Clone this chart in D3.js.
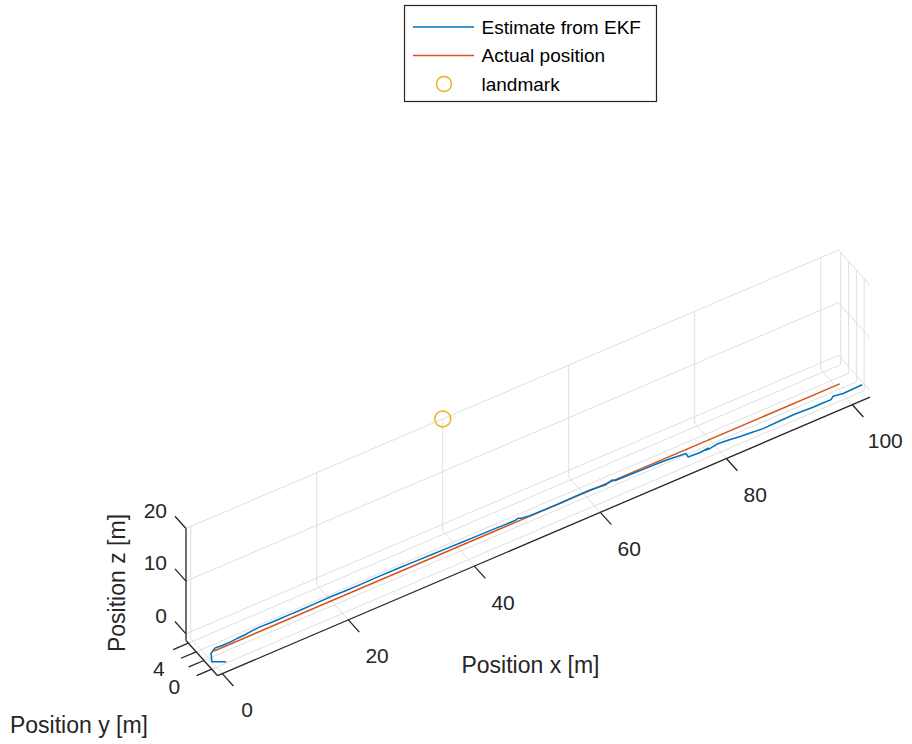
<!DOCTYPE html>
<html>
<head>
<meta charset="utf-8">
<script src="https://cdn.jsdelivr.net/npm/d3@7/dist/d3.min.js"></script>
<style>
  html, body { margin: 0; padding: 0; background: #ffffff; }
  svg { display: block; font-family: "Liberation Sans", Arial, Helvetica, sans-serif; }
</style>
</head>
<body>
<svg id="chart" width="912" height="744"></svg>
<script>
// ---------------- data ----------------
const xLimits = [-0.75, 102.8];
const yLimits = [-1.5, 6.6];
const zLimits = [-1.27, 20];

const xTicks = [0, 20, 40, 60, 80, 100];
const xTickLabels = ["0", "20", "40", "60", "80", "100"];
const yTicks = [0, 2, 4, 6];
const yTickLabels = ["0", "", "4", ""];
const zTicks = [0, 10, 20];
const zTickLabels = ["0", "10", "20"];

// Actual position (straight path)
const actualX = [0.7, 100];
const actualY = [1.75, 1.75];
const actualZ = [0, 0];

// Estimate from EKF
const estX = [0.98, -0.66, 0.12, 1.13, 2.2, 3.45, 4.6, 5.93, 7.1, 8.47, 10.0, 11.59, 13.2, 14.77, 17.0, 19.58, 22.0, 24.29, 27.5, 30.64, 33.0, 35.35, 37.8, 40.06, 42.5, 44.77, 46.8, 48.69, 49.25, 49.6, 50.91, 53.2, 55.62, 58.06, 60.43, 62.66, 63.98, 64.3, 65.84, 68.17, 71.29, 73.3, 75.21, 75.08, 76.92, 78.29, 77.7, 78.48, 79.74, 81.5, 83.16, 85.0, 86.61, 89.2, 91.79, 94.54, 96.0, 97.4, 97.98, 99.41, 101.0, 102.5];
const estY = [-0.88, 0.13, 1.58, 2.18, 2.1, 2.08, 2.2, 2.25, 2.4, 2.5, 2.45, 2.42, 2.45, 2.42, 2.46, 2.5, 2.44, 2.42, 2.45, 2.42, 2.38, 2.33, 2.3, 2.25, 2.2, 2.17, 2.12, 2.08, 2.22, 2.05, 1.83, 1.8, 1.75, 1.83, 1.82, 1.58, 1.92, 1.62, 1.58, 1.5, 1.42, 1.3, 1.08, 0.37, 0.25, 0.42, 0.25, 0.22, 0.45, 0.3, 0.08, -0.1, -0.25, -0.15, -0.08, -0.25, -0.22, -0.25, 0.17, -0.08, -0.05, 0.02];
const estZ = estX.map(() => 0);

const landmarkX = [40];
const landmarkY = [6.6];
const landmarkZ = [20];

const seriesNames = ["Estimate from EKF", "Actual position", "landmark"];
const seriesColors = ["#0072BD", "#D95319", "#EDB120"];
const axisLabels = ["Position x [m]", "Position y [m]", "Position z [m]"];

// ---------------- projection ----------------
const svg = d3.select("#chart");
const ORIGIN = [186, 640.5];          // screen of (xmin, ymax, zmin)
const AX = [652.4, -278.5];           // full x extent on screen
const AY = [31.6, 35.2];              // from ymax to ymin
const AZ = [0, -112];                 // from zmin to zmax

const xScale = d3.scaleLinear().domain(xLimits).range([0, 1]);
const yScale = d3.scaleLinear().domain([yLimits[1], yLimits[0]]).range([0, 1]);
const zScale = d3.scaleLinear().domain(zLimits).range([0, 1]);

function P(x, y, z) {
  const fx = xScale(x), fy = yScale(y), fz = zScale(z);
  return [ORIGIN[0] + fx * AX[0] + fy * AY[0] + fz * AZ[0],
          ORIGIN[1] + fx * AX[1] + fy * AY[1] + fz * AZ[1]];
}

const gridColor = "#dfdfdf";
const axisColor = "#262626";
const [x0, x1] = xLimits, [y0, y1] = yLimits, [z0, z1] = zLimits;

const seg = (a, b) => ({ a, b });
const gridSegs = [];
// floor (z = zmin)
yTicks.forEach(t => gridSegs.push(seg(P(x0, t, z0), P(x1, t, z0))));
xTicks.forEach(t => gridSegs.push(seg(P(t, y0, z0), P(t, y1, z0))));
// back wall (y = ymax)
zTicks.forEach(t => gridSegs.push(seg(P(x0, y1, t), P(x1, y1, t))));
xTicks.forEach(t => gridSegs.push(seg(P(t, y1, z0), P(t, y1, z1))));
// side wall (x = xmax)
zTicks.forEach(t => gridSegs.push(seg(P(x1, y0, t), P(x1, y1, t))));
yTicks.forEach(t => gridSegs.push(seg(P(x1, t, z0), P(x1, t, z1))));

svg.append("g").selectAll("line").data(gridSegs).join("line")
  .attr("x1", d => d.a[0]).attr("y1", d => d.a[1])
  .attr("x2", d => d.b[0]).attr("y2", d => d.b[1])
  .attr("stroke", gridColor).attr("stroke-width", 1);

// axis lines
const axisSegs = [
  seg(P(x0, y0, z0), P(x1, y0, z0)),
  seg(P(x0, y1, z0), P(x0, y0, z0)),
  seg(P(x0, y1, z0), P(x0, y1, z1))
];
svg.append("g").selectAll("line").data(axisSegs).join("line")
  .attr("x1", d => d.a[0]).attr("y1", d => d.a[1])
  .attr("x2", d => d.b[0]).attr("y2", d => d.b[1])
  .attr("stroke", axisColor).attr("stroke-width", 1.3);

// tick directions
function unit(v, len) { const n = Math.hypot(v[0], v[1]); return [v[0] / n * len, v[1] / n * len]; }
const TL = 16.5;
const xTickDir = unit(AY, TL);                  // toward -y
const yTickDir = unit([-AX[0], -AX[1]], TL);    // toward -x
const zTickDir = unit([-AY[0], -AY[1]], TL);    // toward +y

const ticksG = svg.append("g");
xTicks.forEach((t, i) => {
  const p = P(t, y0, z0);
  ticksG.append("line").attr("x1", p[0]).attr("y1", p[1])
    .attr("x2", p[0] + xTickDir[0]).attr("y2", p[1] + xTickDir[1])
    .attr("stroke", axisColor).attr("stroke-width", 1.3);
  const txt = ticksG.append("text").attr("y", p[1] + 36)
    .attr("text-anchor", "middle").attr("dominant-baseline", "central")
    .attr("font-size", 21).attr("fill", axisColor).text(xTickLabels[i]);
  const w = txt.node().getComputedTextLength();
  txt.attr("x", p[0] + 20.5 + 0.71 * w / 2);
});
yTicks.forEach((t, i) => {
  const p = P(x0, t, z0);
  ticksG.append("line").attr("x1", p[0]).attr("y1", p[1])
    .attr("x2", p[0] + yTickDir[0]).attr("y2", p[1] + yTickDir[1])
    .attr("stroke", axisColor).attr("stroke-width", 1.3);
  ticksG.append("text").attr("x", p[0] - 31.5).attr("y", p[1] + 17)
    .attr("text-anchor", "end").attr("dominant-baseline", "central")
    .attr("font-size", 21).attr("fill", axisColor).text(yTickLabels[i]);
});
zTicks.forEach((t, i) => {
  const p = P(x0, y1, t);
  ticksG.append("line").attr("x1", p[0]).attr("y1", p[1])
    .attr("x2", p[0] + zTickDir[0]).attr("y2", p[1] + zTickDir[1])
    .attr("stroke", axisColor).attr("stroke-width", 1.3);
  ticksG.append("text").attr("x", p[0] - 19).attr("y", p[1] - 18.5)
    .attr("text-anchor", "end").attr("dominant-baseline", "central")
    .attr("font-size", 21).attr("fill", axisColor).text(zTickLabels[i]);
});

// axis labels
svg.append("text").attr("x", 530.5).attr("y", 665).attr("text-anchor", "middle")
  .attr("dominant-baseline", "central").attr("font-size", 23).attr("fill", axisColor)
  .text(axisLabels[0]);
svg.append("text").attr("x", 79).attr("y", 725).attr("text-anchor", "middle")
  .attr("dominant-baseline", "central").attr("font-size", 23).attr("fill", axisColor)
  .text(axisLabels[1]);
svg.append("text").attr("transform", "translate(117,583) rotate(-90)").attr("text-anchor", "middle")
  .attr("dominant-baseline", "central").attr("font-size", 23).attr("fill", axisColor)
  .text(axisLabels[2]);

// data lines
const line3 = d3.line().x(d => P(d[0], d[1], d[2])[0]).y(d => P(d[0], d[1], d[2])[1]);
const actualPts = actualX.map((x, i) => [x, actualY[i], actualZ[i]]);
const estPts = estX.map((x, i) => [x, estY[i], estZ[i]]);
svg.append("path").attr("d", line3(actualPts)).attr("fill", "none")
  .attr("stroke", seriesColors[1]).attr("stroke-width", 1.5);
svg.append("path").attr("d", line3(estPts)).attr("fill", "none")
  .attr("stroke", seriesColors[0]).attr("stroke-width", 1.5).attr("stroke-linejoin", "round");

// landmark
const lmPts = landmarkX.map((x, i) => P(x, landmarkY[i], landmarkZ[i]));
svg.append("g").selectAll("circle").data(lmPts).join("circle")
  .attr("cx", d => d[0]).attr("cy", d => d[1]).attr("r", 8)
  .attr("fill", "none").attr("stroke", seriesColors[2]).attr("stroke-width", 1.5);

// legend
const lg = svg.append("g");
lg.append("rect").attr("x", 404.5).attr("y", 5.5).attr("width", 252).attr("height", 96)
  .attr("fill", "#ffffff").attr("stroke", axisColor).attr("stroke-width", 1.2);
const rowsY = [27, 55.5, 84];
seriesNames.forEach((name, i) => {
  if (i < 2) {
    lg.append("line").attr("x1", 413).attr("x2", 474).attr("y1", rowsY[i]).attr("y2", rowsY[i])
      .attr("stroke", seriesColors[i]).attr("stroke-width", 1.5);
  } else {
    lg.append("circle").attr("cx", 444).attr("cy", rowsY[i]).attr("r", 7.5)
      .attr("fill", "none").attr("stroke", seriesColors[i]).attr("stroke-width", 1.5);
  }
  lg.append("text").attr("x", 481.5).attr("y", rowsY[i]).attr("dominant-baseline", "central")
    .attr("font-size", 19).attr("fill", "#000000").text(name);
});
</script>
</body>
</html>
